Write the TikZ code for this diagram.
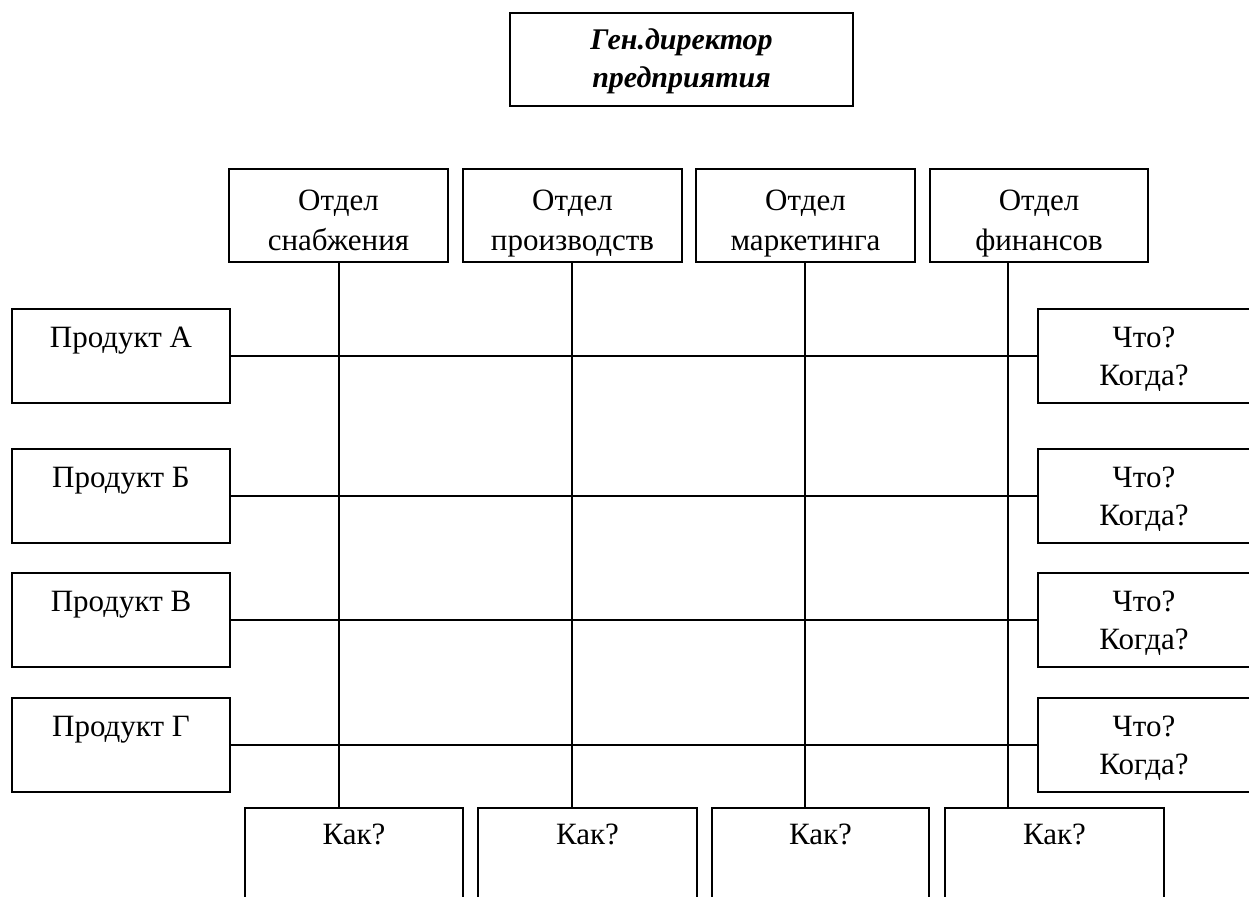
\documentclass[tikz,border=0pt]{standalone}
\usepackage{fontspec}
\setmainfont{Liberation Serif}
\usetikzlibrary{calc}
\tikzset{
  box/.style={draw, line width=1.6pt, rectangle, inner sep=0pt},
  lbl/.style={font=\fontsize{31}{38}\selectfont, align=center, inner sep=0pt, anchor=base},
  conn/.style={line width=1.6pt}
}
\begin{document}
\begin{tikzpicture}[x=1pt,y=-1pt]
\useasboundingbox (0,0) rectangle (1249,896);
% director
\node[box, minimum width=343, minimum height=93] (gd) at (681.5,59.5) {};
\node[lbl, font=\fontsize{30}{38}\selectfont\bfseries\itshape] (gdt) at ($(gd.north)+(0,75)$) {Ген.директор\\предприятия};
% departments
\node[box, minimum width=219, minimum height=93] (d1) at (338.5,215.5) {};
\node[box, minimum width=219, minimum height=93] (d2) at (572.5,215.5) {};
\node[box, minimum width=219, minimum height=93] (d3) at (805.5,215.5) {};
\node[box, minimum width=218, minimum height=93] (d4) at (1039,215.5) {};
\tikzset{dlbl/.style={lbl, font=\fontsize{31}{40}\selectfont}}
\node[dlbl] (d1t) at ($(d1.north)+(0,82)$) {Отдел\\снабжения};
\node[dlbl] (d2t) at ($(d2.north)+(0,82)$) {Отдел\\производств};
\node[dlbl] (d3t) at ($(d3.north)+(0,82)$) {Отдел\\маркетинга};
\node[dlbl] (d4t) at ($(d4.north)+(0,82)$) {Отдел\\финансов};
% products
\node[box, minimum width=218, minimum height=94] (pA) at (121,356) {};
\node[box, minimum width=218, minimum height=94] (pB) at (121,496) {};
\node[box, minimum width=218, minimum height=94] (pC) at (121,620) {};
\node[box, minimum width=218, minimum height=94] (pD) at (121,745) {};
\node[lbl] (pAt) at ($(pA.north)+(0,39)$) {Продукт А};
\node[lbl] (pBt) at ($(pB.north)+(0,39)$) {Продукт Б};
\node[lbl] (pCt) at ($(pC.north)+(0,39)$) {Продукт В};
\node[lbl] (pDt) at ($(pD.north)+(0,39)$) {Продукт Г};
% what / when
\node[box, minimum width=214, minimum height=94] (qA) at (1145,356) {};
\node[box, minimum width=214, minimum height=94] (qB) at (1145,496) {};
\node[box, minimum width=214, minimum height=94] (qC) at (1145,620) {};
\node[box, minimum width=214, minimum height=94] (qD) at (1145,745) {};
\node[lbl] (qAt) at ($(qA.north)+(-1,77)$) {Что?\\Когда?};
\node[lbl] (qBt) at ($(qB.north)+(-1,77)$) {Что?\\Когда?};
\node[lbl] (qCt) at ($(qC.north)+(-1,77)$) {Что?\\Когда?};
\node[lbl] (qDt) at ($(qD.north)+(-1,77)$) {Что?\\Когда?};
% how
\node[box, minimum width=218, minimum height=100] (k1) at (354,858) {};
\node[box, minimum width=219, minimum height=100] (k2) at (587.5,858) {};
\node[box, minimum width=217, minimum height=100] (k3) at (820.5,858) {};
\node[box, minimum width=219, minimum height=100] (k4) at (1054.5,858) {};
\node[lbl] (k1t) at ($(k1.north)+(0,37)$) {Как?};
\node[lbl] (k2t) at ($(k2.north)+(0,37)$) {Как?};
\node[lbl] (k3t) at ($(k3.north)+(0,37)$) {Как?};
\node[lbl] (k4t) at ($(k4.north)+(0,37)$) {Как?};
% vertical connectors
\coordinate (v1) at (339,0);
\coordinate (v2) at (572,0);
\coordinate (v3) at (805,0);
\coordinate (v4) at (1008,0);
\draw[conn] (d1.south -| v1) -- (k1.north -| v1);
\draw[conn] (d2.south -| v2) -- (k2.north -| v2);
\draw[conn] (d3.south -| v3) -- (k3.north -| v3);
\draw[conn] (d4.south -| v4) -- (k4.north -| v4);
% horizontal connectors
\draw[conn] (pA.east) -- (qA.west);
\draw[conn] (pB.east) -- (qB.west);
\draw[conn] (pC.east) -- (qC.west);
\draw[conn] (pD.east) -- (qD.west);
\end{tikzpicture}
\end{document}
